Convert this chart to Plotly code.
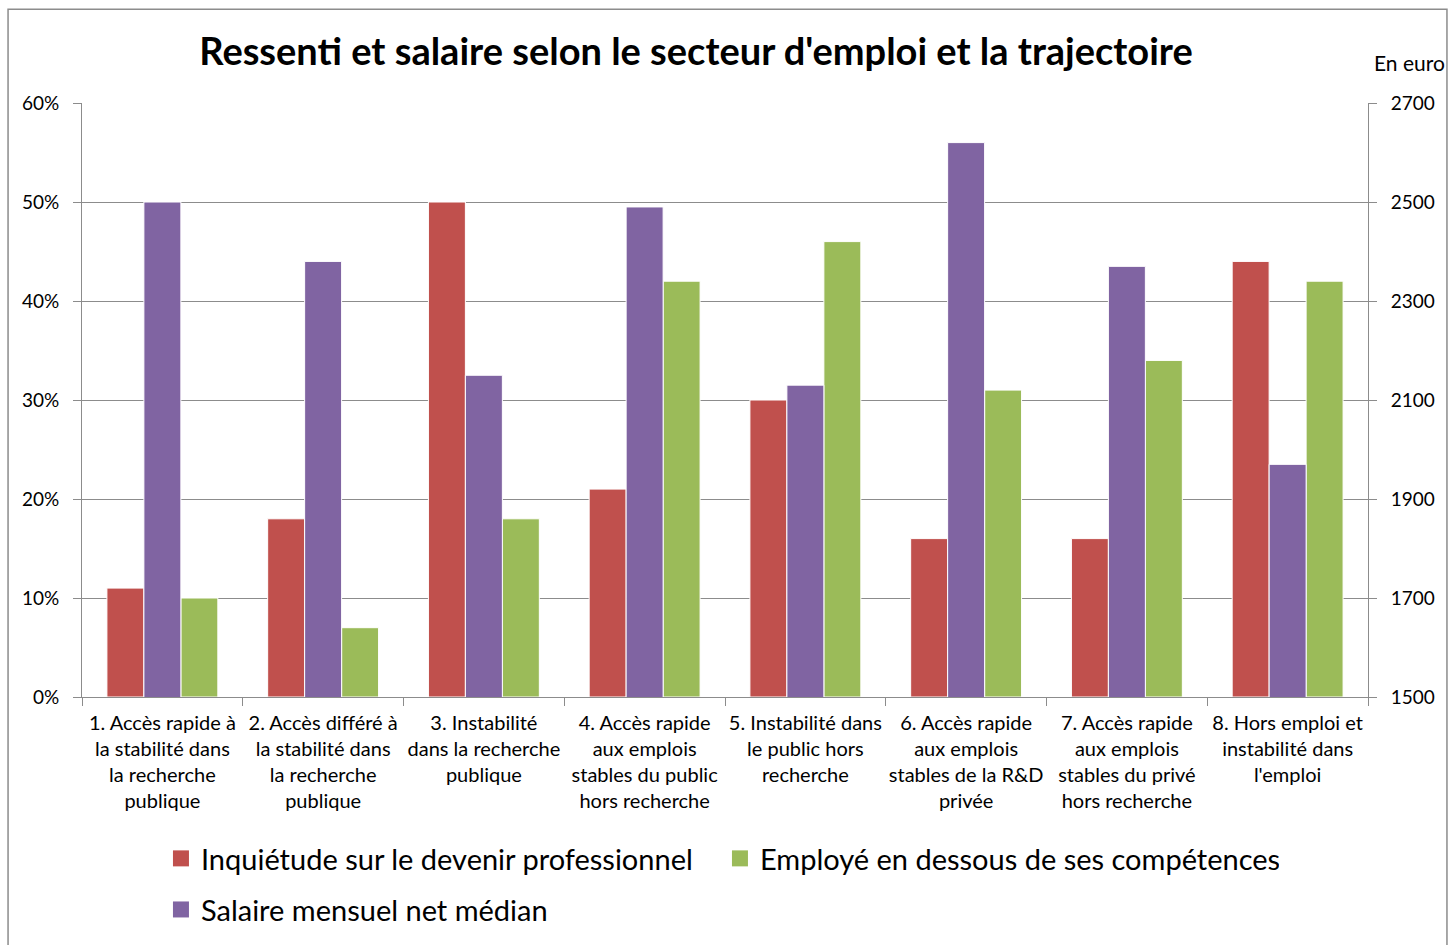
import plotly.graph_objects as go

categories = [
    "1. Accès rapide à<br>la stabilité dans<br>la recherche<br>publique",
    "2. Accès différé à<br>la stabilité dans<br>la recherche<br>publique",
    "3. Instabilité<br>dans la recherche<br>publique",
    "4. Accès rapide<br>aux emplois<br>stables du public<br>hors recherche",
    "5. Instabilité dans<br>le public hors<br>recherche",
    "6. Accès rapide<br>aux emplois<br>stables de la R&D<br>privée",
    "7. Accès rapide<br>aux emplois<br>stables du privé<br>hors recherche",
    "8. Hors emploi et<br>instabilité dans<br>l'emploi",
]
inquietude = [0.11, 0.18, 0.50, 0.21, 0.30, 0.16, 0.16, 0.44]
salaire = [2500, 2380, 2150, 2490, 2130, 2620, 2370, 1970]
sous_competences = [0.10, 0.07, 0.18, 0.42, 0.46, 0.31, 0.34, 0.42]

NAMES = [
    "Inquiétude sur le devenir professionnel",
    "Employé en dessous de ses compétences",
    "Salaire mensuel net médian",
]
RED, PURPLE, GREEN = "#C0504D", "#8064A2", "#9BBB59"
GRAY = "#8c8c8c"
FONT = "Lato"

fig = go.Figure()
bar_style = dict(width=0.23, showlegend=False)
fig.add_trace(go.Bar(
    x=categories, y=inquietude, name=NAMES[0], offset=-0.345,
    marker=dict(color=RED, line=dict(color="white", width=1)), **bar_style,
))
fig.add_trace(go.Bar(
    x=categories, y=salaire, name=NAMES[2], offset=-0.115, yaxis="y2",
    marker=dict(color=PURPLE, line=dict(color="white", width=1)), **bar_style,
))
fig.add_trace(go.Bar(
    x=categories, y=sous_competences, name=NAMES[1], offset=0.115,
    marker=dict(color=GREEN, line=dict(color="white", width=1)), **bar_style,
))

# legend-only entries so the swatches can be drawn as larger squares
for name, color, leg in [(NAMES[0], RED, "legend"), (NAMES[1], GREEN, "legend"),
                         (NAMES[2], PURPLE, "legend2")]:
    fig.add_trace(go.Scatter(
        x=[None], y=[None], mode="markers", name=name, legend=leg,
        marker=dict(symbol="square", size=16, color=color),
    ))

fig.update_layout(
    width=1450, height=945,
    barmode="overlay",
    plot_bgcolor="white", paper_bgcolor="white",
    font=dict(family=FONT, color="black", size=19),
    margin=dict(l=82, r=82, t=103, b=248, autoexpand=False),
    title=dict(
        text="<b>Ressenti et salaire selon le secteur d'emploi et la trajectoire</b>",
        x=0.48, xanchor="center", y=0.945, yanchor="middle",
        font=dict(size=38, family=FONT),
    ),
    xaxis=dict(
        showline=True, linecolor=GRAY, linewidth=1,
        ticks="outside", tickson="boundaries", ticklen=8, tickcolor=GRAY,
        tickfont=dict(size=20), range=[-0.5, 7.5], ticklabelstandoff=8,
        tickangle=0,
    ),
    yaxis=dict(
        range=[0, 0.6], dtick=0.1, tickformat=".0%",
        showline=True, linecolor=GRAY, linewidth=1,
        showgrid=True, gridcolor=GRAY, gridwidth=1,
        ticks="outside", ticklen=8, tickcolor=GRAY,
        tickfont=dict(size=19), zeroline=False, ticklabelstandoff=10,
    ),
    yaxis2=dict(
        range=[1500, 2700], tick0=1500, dtick=200, overlaying="y", side="right",
        showline=True, linecolor=GRAY, linewidth=1, showgrid=False,
        ticks="outside", ticklen=8, tickcolor=GRAY,
        tickfont=dict(size=19), zeroline=False, ticklabelstandoff=10,
    ),
    legend=dict(
        orientation="h", x=0.0614, xanchor="left", y=-0.229, yanchor="top",
        font=dict(size=29), entrywidth=514, entrywidthmode="pixels",
        traceorder="normal",
    ),
    legend2=dict(
        orientation="h", x=0.0614, xanchor="left", y=-0.315, yanchor="top",
        font=dict(size=29),
    ),
)

fig.add_annotation(
    text="En euro", xref="paper", yref="paper", x=1.003, xanchor="left",
    y=1.069, yanchor="middle", showarrow=False, font=dict(size=21),
)

fig.add_shape(
    type="rect", xref="paper", yref="paper",
    x0=-0.0575, x1=1.0614, y0=-0.43, y1=1.158,
    line=dict(color=GRAY, width=1.5), layer="below",
)

fig.write_html("out.html", config={"displayModeBar": False},
               post_script="document.body.style.margin='0';")
